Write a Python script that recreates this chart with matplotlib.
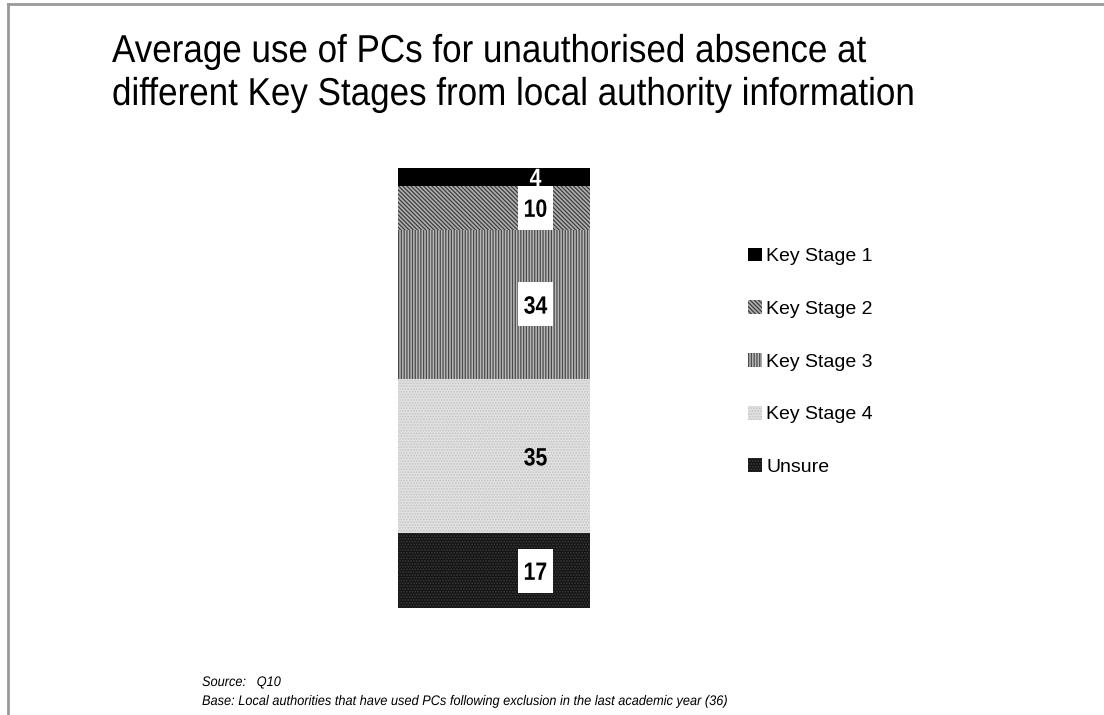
import matplotlib
matplotlib.use("Agg")
import matplotlib.pyplot as plt
from matplotlib.lines import Line2D
from matplotlib.patches import Rectangle
from matplotlib.patheffects import AbstractPathEffect
from matplotlib.transforms import Affine2D

# ----------------------------------------------
# Data
# ----------------------------------------------
stages = ["Key Stage 1", "Key Stage 2", "Key Stage 3", "Key Stage 4", "Unsure"]
values = [4, 10, 34, 35, 17]

faces = ["#000000", "#b0b0b0", "#b8b8b8", "#e2e2e2", "#141414"]
hatch_cols = ["#000000", "#3c3c3c", "#4a4a4a", "#c4c4c4", "#3a3a3a"]
hatches = [None, "\\\\\\\\\\\\\\\\", "||||||", "......", "......"]
boxed = [False, True, True, False, True]

title_lines = ["Average use of PCs for unauthorised absence at",
               "different Key Stages from local authority information"]
source_txt = "Source:   Q10"
base_txt = "Base: Local authorities that have used PCs following exclusion in the last academic year (36)"

plt.rcParams["font.family"] = ["Liberation Sans", "DejaVu Sans"]
plt.rcParams["hatch.linewidth"] = 0.9

W, H = 1104, 715


class Condense(AbstractPathEffect):
    """squeeze glyphs horizontally about a fixed x (display px)"""
    def __init__(self, sx, x0):
        super().__init__()
        self.sx, self.x0 = sx, x0

    def draw_path(self, renderer, gc, tpath, affine, rgbFace=None):
        t = affine + Affine2D().translate(-self.x0, 0).scale(self.sx, 1).translate(self.x0, 0)
        renderer.draw_path(gc, tpath, t, rgbFace)


fig = plt.figure(figsize=(W / 100, H / 100), dpi=100)

# frame lines (top + left, like the slide border)
fig.add_artist(Line2D([8 / W, 1], [1 - 4 / H] * 2, color="#999999", lw=2))
fig.add_artist(Line2D([8 / W] * 2, [0, 1 - 4 / H], color="#999999", lw=2))

tx = 112
for line, base_y in zip(title_lines, [62, 105]):
    fig.text(tx / W, 1 - base_y / H, line, fontsize=28, va="baseline", ha="left",
             path_effects=[Condense(0.9, tx)])

bx, bw = 398, 192
ax = fig.add_axes([bx / W, 107 / H, bw / W, 440 / H])

# stack from the bottom: Unsure first, Key Stage 1 on top
bottom = 0
handles = {}
lx = 0.216  # label column sits right of the bar centre
lx_px = bx + (lx + 0.5) * bw
for i in reversed(range(len(stages))):
    b = ax.bar(0, values[i], width=1.0, bottom=bottom, color=faces[i],
               edgecolor=hatch_cols[i], hatch=hatches[i], linewidth=0)
    handles[stages[i]] = b
    mid = bottom + values[i] / 2
    col = "white" if i == 0 else "black"
    if boxed[i]:
        ax.add_patch(Rectangle((lx - 0.091, mid - 5), 0.182, 10,
                               facecolor="white", edgecolor="none", zorder=3))
    ax.text(lx, mid - 0.5, str(values[i]), ha="center", va="center",
            fontsize=18, fontweight="bold", color=col, zorder=4,
            path_effects=[Condense(0.85, lx_px)])
    bottom += values[i]

ax.set_xlim(-0.5, 0.5)
ax.set_ylim(0, 100)
ax.axis("off")

leg = fig.legend([handles[s] for s in stages], stages,
                 loc="upper left", bbox_to_anchor=(730 / W, 1 - 230 / H),
                 frameon=False, fontsize=14, handlelength=0.72, handleheight=0.72,
                 handletextpad=0.25, labelspacing=1.8)

fx = 202
fig.text(fx / W, 1 - 686 / H, source_txt, fontsize=10, style="italic",
         va="baseline", path_effects=[Condense(0.92, fx)])
fig.text(fx / W, 1 - 705 / H, base_txt, fontsize=10, style="italic",
         va="baseline", path_effects=[Condense(0.92, fx)])

fig.savefig("out.png", dpi=100)
